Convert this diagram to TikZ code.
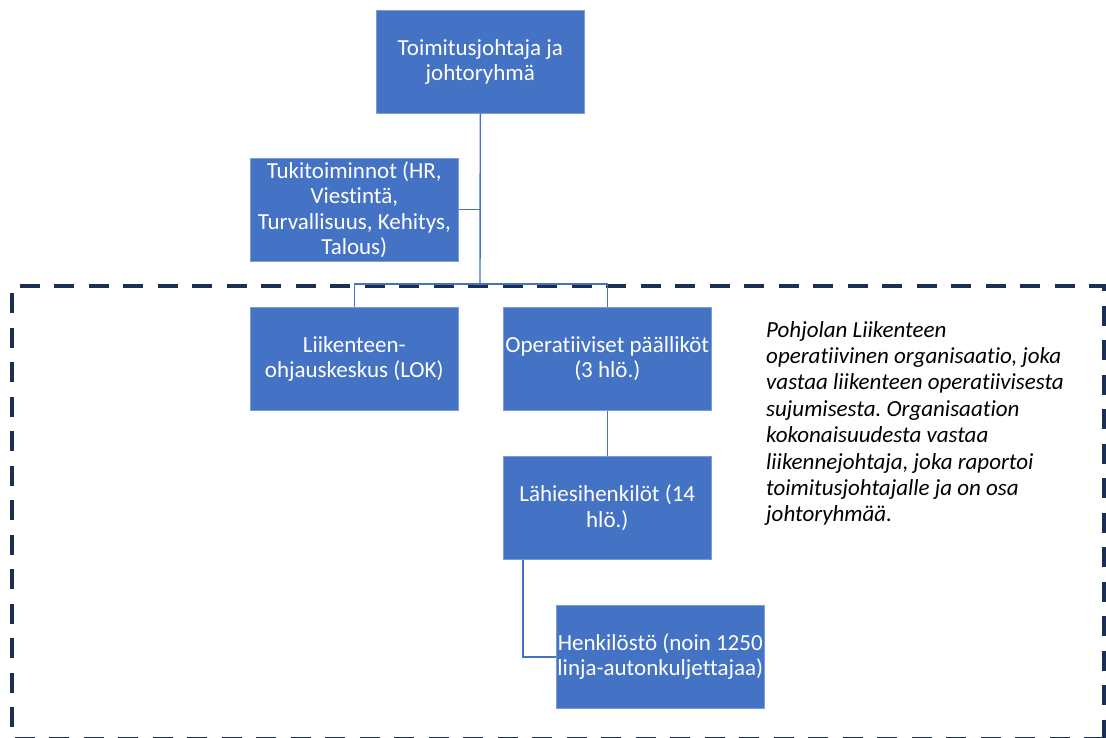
\documentclass[tikz,border=0pt]{standalone}
\usepackage{fontspec}
\setmainfont{Carlito}[Ligatures=NoCommon]
\frenchspacing
\definecolor{boxblue}{HTML}{4472C4}
\definecolor{navy}{HTML}{1B2F55}
\begin{document}
\begin{tikzpicture}[x=1pt,y=-1pt,
  orgbox/.style={draw=boxblue!70!white, line width=0.6pt, fill=boxblue, text=white, align=center,
    minimum width=208pt, minimum height=103pt, inner sep=0pt, anchor=north west,
    font=\fontsize{23}{25.5}\selectfont},
  link/.style={draw=boxblue, line width=1.4pt},
  frame/.style={draw=navy, line width=3.6pt, dash pattern=on 20pt off 14.5pt}]
\useasboundingbox (0,0) rectangle (1106,738);
\draw[frame] (1104,739) -- (12,739) -- (12,286) -- (1104,286) -- cycle;
\node[orgbox] (ceo) at (376,10) {Toimitusjohtaja ja\\johtoryhmä};
\node[orgbox] (tuki) at (250,158) {Tukitoiminnot (HR,\\Viestintä,\\Turvallisuus, Kehitys,\\Talous)};
\node[orgbox] (lok) at (250,307) {Liikenteen-\\ohjauskeskus (LOK)};
\node[orgbox] (ops) at (503,307) {Operatiiviset päälliköt\\(3 hlö.)};
\node[orgbox] (lahi) at (503,456) {Lähiesihenkilöt (14\\hlö.)};
\node[orgbox] (hlo) at (556,605) {Henkilöstö (noin 1250\\linja-autonkuljettajaa)};
\coordinate (hub) at (480,284);
\draw[link] (ceo.south) -- (hub);
\draw[link] (tuki.east) -- (tuki.east -| hub);
\draw[link] (lok.north) -- (lok.north |- hub) -- (ops.north |- hub) -- (ops.north);
\draw[link] (ops.south) -- (lahi.north);
\draw[link] ([xshift=20pt]lahi.south west) |- (hlo.west);
\node[anchor=north west, align=left, inner sep=0pt, font=\itshape\fontsize{23}{26.4}\selectfont] (note) at (766,321)
 {Pohjolan Liikenteen\\operatiivinen organisaatio, joka\\vastaa liikenteen operatiivisesta\\sujumisesta. Organisaation\\kokonaisuudesta vastaa\\liikennejohtaja, joka raportoi\\toimitusjohtajalle ja on osa\\johtoryhmää.};
\end{tikzpicture}
\end{document}
